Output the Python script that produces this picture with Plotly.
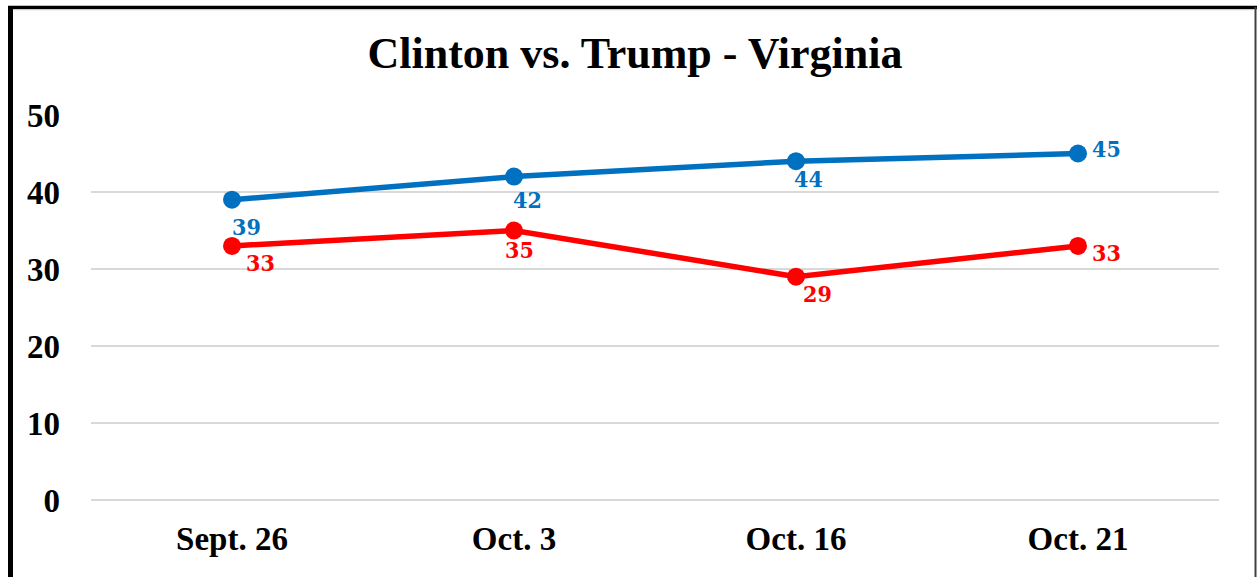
import plotly.graph_objects as go

categories = ["Sept. 26", "Oct. 3", "Oct. 16", "Oct. 21"]
clinton = [39, 42, 44, 45]
trump = [33, 35, 29, 33]
y_ticks = [0, 10, 20, 30, 40, 50]

BLUE = "#0070C0"
RED = "#FF0000"

W, H = 1257, 577
ML, MT = 91, 115
PW = 1219 - 91
PH = 500 - 115
MR = W - ML - PW
MB = H - MT - PH

def px_x(p):
    return (p - ML) / PW

def px_y(p):
    return (MT + PH - p) / PH

fig = go.Figure()
for name, vals, col in [("Clinton", clinton, BLUE), ("Trump", trump, RED)]:
    fig.add_trace(go.Scatter(
        x=categories, y=vals, mode="lines+markers", name=name,
        line=dict(color=col, width=5.5),
        marker=dict(color=col, size=18),
        hoverinfo="skip",
    ))

# label offsets (pixels) per point
blue_shift = [(14, -27), (13, -23), (12, -17), (28, 5)]
red_shift = [(28, -17), (5, -19), (21, -17), (28, -7)]
anns = []
for vals, col, shifts in [(clinton, BLUE, blue_shift), (trump, RED, red_shift)]:
    for c, v, (dx, dy) in zip(categories, vals, shifts):
        anns.append(dict(
            x=c, y=v, text=str(v), showarrow=False, xshift=dx, yshift=dy,
            font=dict(family="DejaVu Serif Condensed, DejaVu Serif", size=23, color=col, weight="bold"),
        ))

shapes = [
    dict(type="line", xref="paper", yref="paper", x0=px_x(10.5), x1=px_x(10.5), y0=px_y(6), y1=px_y(600),
         line=dict(color="black", width=5)),
    dict(type="line", xref="paper", yref="paper", x0=px_x(8), x1=px_x(1257), y0=px_y(7.5), y1=px_y(7.5),
         line=dict(color="black", width=3.5)),
    dict(type="line", xref="paper", yref="paper", x0=px_x(1255.5), x1=px_x(1255.5), y0=px_y(7), y1=px_y(600),
         line=dict(color="#404040", width=2)),
    dict(type="line", xref="paper", yref="paper", x0=px_x(13), x1=px_x(1254.5), y0=px_y(9.8), y1=px_y(9.8),
         line=dict(color="#D0D0D0", width=1)),
]

fig.update_layout(
    width=W, height=H,
    margin=dict(l=ML, r=MR, t=MT, b=MB),
    paper_bgcolor="white", plot_bgcolor="white",
    showlegend=False,
    title=dict(text="<b>Clinton vs. Trump - Virginia</b>", x=635 / W, xanchor="center",
               y=1 - 53 / H, yanchor="middle",
               font=dict(family="Liberation Serif", size=44, color="black")),
    xaxis=dict(range=[-0.5, 3.5], showgrid=False, showline=False, ticks="",
               ticklabelstandoff=16,
               tickfont=dict(family="Liberation Serif", size=33, color="black", weight="bold")),
    yaxis=dict(range=[0, 50], tickvals=y_ticks, showgrid=True, gridcolor="#D9D9D9", gridwidth=2,
               zeroline=True, zerolinecolor="#D9D9D9", zerolinewidth=2, showline=False, ticks="",
               ticklabelstandoff=30,
               tickfont=dict(family="Liberation Serif", size=33, color="black", weight="bold")),
    annotations=anns,
    shapes=shapes,
)
fig.write_html("out.html", config={"displayModeBar": False},
               post_script="document.body.style.margin='0';document.body.style.overflow='hidden';")
